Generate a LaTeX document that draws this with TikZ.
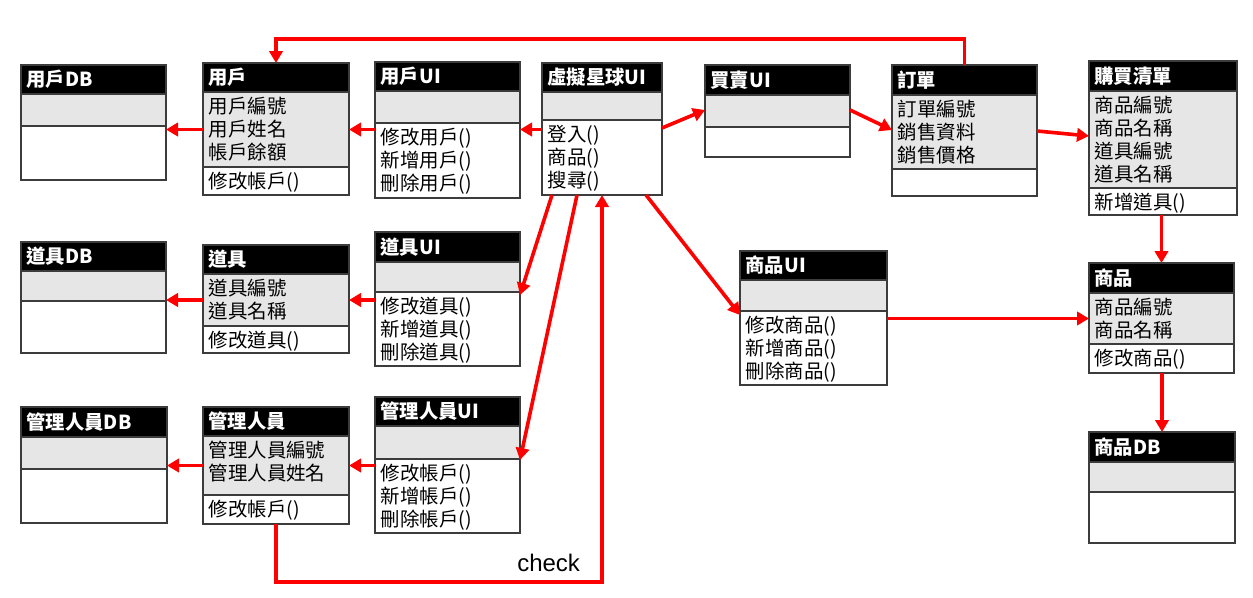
\documentclass[tikz,border=0pt]{standalone}
\usepackage{fontspec}
\setmainfont{Noto Sans CJK TC}
\newfontfamily\checkfont{Liberation Sans}
\usetikzlibrary{arrows.meta,calc}

\definecolor{attrgray}{HTML}{E6E6E6}
\definecolor{boxline}{HTML}{3C3C3C}
\definecolor{arrred}{HTML}{FF0000}

\tikzset{
  clspart/.style={draw=boxline, line width=1pt, inner sep=0pt, outer sep=0pt},
  clstitle/.style={clspart, fill=black, anchor=north west},
  clsattr/.style={clspart, fill=attrgray, anchor=north},
  clsmeth/.style={clspart, fill=white, anchor=north},
  titletext/.style={anchor=west, text=white, inner xsep=4pt, inner ysep=0pt,
    font=\bfseries\fontsize{14.5pt}{17pt}\selectfont},
  bodytext/.style={anchor=north west, align=left, inner xsep=4pt, inner ysep=3.5pt,
    font=\fontsize{14.6pt}{17.25pt}\selectfont},
  arr/.style={draw=arrred, line width=2.7pt, -{Triangle[length=9pt,width=10pt]}}
}

% name, top left, width, title/attribute/method heights, title, attributes, methods
\newcommand{\classbox}[9]{%
  \node[clstitle, minimum width=#3*0.75pt, minimum height=#4*0.75pt] (#1) at (#2) {};
  \node[clsattr, minimum width=#3*0.75pt, minimum height=#5*0.75pt] (#1-a) at (#1.south) {};
  \node[clsmeth, minimum width=#3*0.75pt, minimum height=#6*0.75pt] (#1-m) at (#1-a.south) {};
  \node[titletext] (#1-t) at (#1.west) {#7};
  \node[bodytext] (#1-ta) at (#1-a.north west) {#8};
  \node[bodytext] (#1-tm) at (#1-m.north west) {#9};
}

\begin{document}
\begin{tikzpicture}[x=0.75pt, y=-0.75pt]
    \useasboundingbox (0,0) rectangle (1253,597);

    \classbox{userdb}{21,65}{145}{29}{32}{54}{用戶DB}{}{}
    \classbox{user}{203,63}{146}{29}{75}{28}{用戶}{用戶編號\\用戶姓名\\帳戶餘額}{修改帳戶()}
    \classbox{userui}{375,62}{145}{29}{32}{75}{用戶UI}{}{修改用戶()\\新增用戶()\\刪除用戶()}
    \classbox{planetui}{542,63}{120}{29}{28}{75}{虛擬星球UI}{}{登入()\\商品()\\搜尋()}
    \classbox{tradeui}{705,65}{145}{30}{32}{30}{買賣UI}{}{}
    \classbox{order}{892,65}{145}{30}{74}{27}{訂單}{訂單編號\\銷售資料\\銷售價格}{}
    \classbox{cart}{1089,61}{148}{30}{97}{27}{購買清單}{商品編號\\商品名稱\\道具編號\\道具名稱}{新增道具()}
    \classbox{itemdb}{21,242}{145}{29}{30}{52}{道具DB}{}{}
    \classbox{item}{203,245}{146}{29}{52}{27}{道具}{道具編號\\道具名稱}{修改道具()}
    \classbox{itemui}{375,232}{145}{30}{30}{74}{道具UI}{}{修改道具()\\新增道具()\\刪除道具()}
    \classbox{goodsui}{740,251}{147}{29}{31}{74}{商品UI}{}{修改商品()\\新增商品()\\刪除商品()}
    \classbox{goods}{1089,263}{145}{30}{51}{29}{商品}{商品編號\\商品名稱}{修改商品()}
    \classbox{goodsdb}{1089,432}{146}{30}{30}{51}{商品DB}{}{}
    \classbox{admindb}{21,407}{146}{30}{32}{54}{管理人員DB}{}{}
    \classbox{admin}{203,407}{146}{29}{59}{29}{管理人員}{管理人員編號\\管理人員姓名}{修改帳戶()}
    \classbox{adminui}{375,397}{145}{29}{33}{74}{管理人員UI}{}{修改帳戶()\\新增帳戶()\\刪除帳戶()}

    \draw[arr] (user-a.west) -- (userdb.east |- user-a.west);
    \draw[arr] (userui.west |- user-a.east) -- (user-a.east);
    \draw[arr] (planetui.west |- user-a.east) -- (userui.east |- user-a.east);
    \draw[arr] ($(planetui-m.north east)+(0,8)$) -- ($(tradeui-a.north west)+(0,15)$);
    \draw[arr] ($(tradeui-a.north east)+(0,15)$) -- ($(order-a.north west)+(0,35)$);
    \draw[arr] ($(order-a.north east)+(0,36)$) -- ($(cart-a.north west)+(0,45)$);
    \draw[arr] (goods.north |- cart-m.south) -- (goods.north);
    \draw[arr] (goodsdb.north |- goods-m.south) -- (goodsdb.north);
    \draw[arr] (goodsui-m.east |- goods-a.west) -- (goods-a.west);
    \draw[arr] ($(planetui-m.south east)+(-16,0)$) -- ($(goodsui-m.north west)+(0,4)$);
    \draw[arr] ($(planetui-m.south west)+(10,0)$) -- ($(itemui-m.north east)+(0,3)$);
    \draw[arr] ($(planetui-m.south west)+(35,0)$) -- ($(adminui-m.north east)+(0,1)$);
    \draw[arr] (itemui.west |- item-a.east) -- (item-a.east);
    \draw[arr] (item-a.west) -- (itemdb.east |- item-a.west);
    \draw[arr] (adminui.west |- admin-a.east) -- (admin-a.east);
    \draw[arr] (admin-a.west) -- (admindb.east |- admin-a.west);
    \draw[arr] (order.north) |- ($(user.north)+(0,-24)$) -- (user.north);
    \draw[arr] (admin-m.south) -- ++(0,58) -| (planetui-m.south);

    \node[anchor=base west, inner sep=0pt, font=\checkfont\fontsize{18pt}{20pt}\selectfont] (check) at (517,571) {check};
\end{tikzpicture}
\end{document}
